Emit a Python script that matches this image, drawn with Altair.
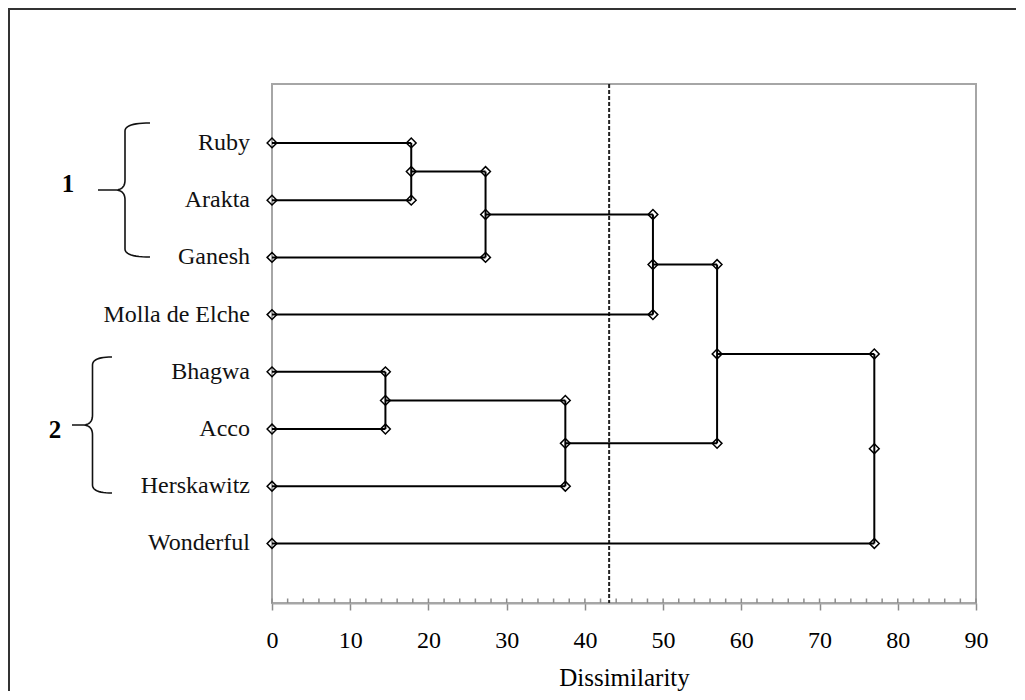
import altair as alt
import pandas as pd

# ---------------- data ----------------
leaves = ["Ruby", "Arakta", "Ganesh", "Molla de Elche", "Bhagwa", "Acco", "Herskawitz", "Wonderful"]
leaf_rank = [8, 7, 6, 5, 4, 3, 2, 1]
merge_a = ["Ruby", "m1", "m2", "Bhagwa", "m4", "m3", "m6"]
merge_b = ["Arakta", "Ganesh", "Molla de Elche", "Acco", "Herskawitz", "m5", "Wonderful"]
merge_height = [17.8, 27.3, 48.7, 14.5, 37.5, 56.9, 77.0]
cut_level = [43.1]
x_ticks = [0, 10, 20, 30, 40, 50, 60, 70, 80, 90]
minor_ticks = list(range(0, 91, 2))
cluster_names = ["1", "2"]
x_title = "Dissimilarity"

# ---------------- layout ----------------
W, H = 704, 519
PAD = {"left": 264, "top": 76, "right": 40, "bottom": 88}
X0, Y0 = 272, 84          # plot origin in reference pixels
XD = [0, 90]
YD = [-0.04, 9.03]

def px_to_data(xa, ya):
    xd = (xa - X0) / W * (XD[1] - XD[0]) + XD[0]
    yd = YD[1] - (ya - Y0) / H * (YD[1] - YD[0])
    return xd, yd

# ---------------- dendrogram geometry ----------------
pos = {n: (0.0, r) for n, r in zip(leaves, leaf_rank)}
segs, pts = [], []
for n, r in zip(leaves, leaf_rank):
    pts.append({"x": 0.0, "y": r})
for i, (a, b, h) in enumerate(zip(merge_a, merge_b, merge_height)):
    xa, ya = pos[a]
    xb, yb = pos[b]
    ym = (ya + yb) / 2
    segs.append({"x": xa, "x2": h, "y": ya, "y2": ya})
    segs.append({"x": xb, "x2": h, "y": yb, "y2": yb})
    segs.append({"x": h, "x2": h, "y": ya, "y2": yb})
    pts += [{"x": h, "y": ya}, {"x": h, "y": yb}, {"x": h, "y": ym}]
    pos[f"m{i+1}"] = (h, ym)
seg_df = pd.DataFrame(segs)
pt_df = pd.DataFrame(pts)
leaf_df = pd.DataFrame({"name": leaves, "y": leaf_rank, "x": [0.0] * len(leaves)})

# ---------------- braces (annotation) ----------------
def quad(p0, c, p1, n=12):
    out = []
    for k in range(n + 1):
        t = k / n
        out.append(((1 - t) ** 2 * p0[0] + 2 * (1 - t) * t * c[0] + t * t * p1[0],
                    (1 - t) ** 2 * p0[1] + 2 * (1 - t) * t * c[1] + t * t * p1[1]))
    return out

def brace(xe, xv, xt, yt, ym, yb, r1=8, r2=10):
    p = []
    p += quad((xe, yt), (xv, yt), (xv, yt + r1))
    p += quad((xv, ym - r2), (xv, ym), (xv - r2, ym))
    p += [(xt, ym)]
    p += quad((xv - r2, ym), (xv, ym), (xv, ym + r2))
    p += quad((xv, yb - r1), (xv, yb), (xe, yb))
    return p

brace_rows = []
for bid, geo in enumerate([(150, 125, 98, 123, 190, 257), (112, 92.5, 72, 357, 425, 493)]):
    path = brace(*geo)
    for k, (xa, ya) in enumerate(path):
        xd, yd = px_to_data(xa, ya)
        brace_rows.append({"b": bid, "i": k, "x": xd, "y": yd})
brace_df = pd.DataFrame(brace_rows)

lab_xy = [px_to_data(68, 184), px_to_data(55, 430)]
clus_df = pd.DataFrame({"t": cluster_names, "x": [p[0] for p in lab_xy], "y": [p[1] for p in lab_xy]})

# ---------------- encodings ----------------
FONT = "Liberation Serif"
xs = alt.Scale(domain=XD, nice=False, zero=False)
ys = alt.Scale(domain=YD, nice=False, zero=False)
xaxis = alt.Axis(values=x_ticks, grid=False, tickSize=7, tickColor="#8c8c8c", tickWidth=1.5,
                 domainColor="#a6a6a6", domainWidth=2, labelFont=FONT, labelFontSize=24,
                 labelColor="black", labelPadding=18, labelFlush=False, title=x_title,
                 titleFont=FONT, titleFontSize=25, titleFontWeight="normal", titleColor="black",
                 titlePadding=13)

def X(f):
    return alt.X(f, type="quantitative", scale=xs, axis=xaxis)

def Y(f):
    return alt.Y(f, type="quantitative", scale=ys, axis=None)

segs_layer = alt.Chart(seg_df).mark_rule(color="black", strokeWidth=2).encode(
    x=X("x"), x2="x2", y=Y("y"), y2="y2")

cut_layer = alt.Chart(pd.DataFrame({"x": cut_level})).mark_rule(
    color="#222222", strokeWidth=2, strokeDash=[4, 2]).encode(x=X("x"))

pts_layer = alt.Chart(pt_df).mark_point(shape="diamond", filled=False, size=95, strokeWidth=1.5,
                                         color="black", opacity=1).encode(x=X("x"), y=Y("y"))

leaf_layer = alt.Chart(leaf_df).mark_text(align="right", baseline="middle", dx=-22, font=FONT,
                                          fontSize=24, color="#111111").encode(
    x=X("x"), y=Y("y"), text="name:N")

minor_layer = alt.Chart(pd.DataFrame({"x": minor_ticks})).mark_rule(
    color="#8c8c8c", strokeWidth=1.5).encode(x=X("x"), y=alt.value(H - 4.5), y2=alt.value(H))

brace_layer = alt.Chart(brace_df).mark_line(color="#111111", strokeWidth=1.6).encode(
    x=X("x"), y=Y("y"), detail="b:N", order="i:Q")

clus_layer = alt.Chart(clus_df).mark_text(font=FONT, fontSize=25, fontWeight="bold",
                                          color="black", baseline="middle").encode(
    x=X("x"), y=Y("y"), text="t:N")

border_left = alt.Chart(pd.DataFrame({"k": [0]})).mark_rule(color="#333333", strokeWidth=2).encode(
    x=alt.value(-PAD["left"] + 1), y=alt.value(-PAD["top"]), y2=alt.value(H + PAD["bottom"]))
border_top = alt.Chart(pd.DataFrame({"k": [0]})).mark_rule(color="#333333", strokeWidth=2).encode(
    y=alt.value(-PAD["top"] + 1), x=alt.value(-PAD["left"]), x2=alt.value(W + PAD["right"]))

chart = alt.layer(
    minor_layer, cut_layer, segs_layer, pts_layer, leaf_layer, brace_layer, clus_layer,
    border_left, border_top
).properties(
    width=W, height=H, padding=PAD, autosize=alt.AutoSizeParams(type="none"),
    background="white"
).configure_view(stroke="#a6a6a6", strokeWidth=2)

chart.save("out.html", embed_options={"renderer": "svg", "actions": False})
